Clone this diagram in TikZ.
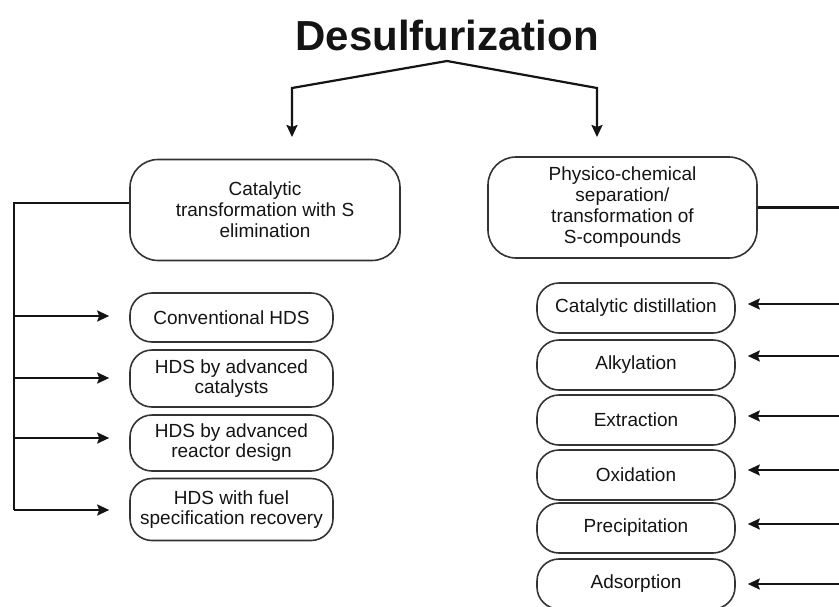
\documentclass[tikz,border=0pt]{standalone}
\usepackage{fontspec}
\setmainfont{Liberation Sans}
\usetikzlibrary{arrows.meta}
\definecolor{boxline}{HTML}{333333}
\definecolor{ink}{HTML}{141414}
\tikzset{
  topbox/.style={draw=boxline, line width=1.6pt, rounded corners=28pt, minimum width=270pt,
    minimum height=101pt, align=center, inner sep=0pt, font=\fontsize{19}{21}\selectfont, text=ink},
  subbox/.style={draw=boxline, line width=1.6pt, rounded corners=22pt, minimum width=203pt,
    align=center, inner sep=0pt, font=\fontsize{19}{20}\selectfont, text=ink},
  rbox/.style={subbox, minimum width=198pt, minimum height=50pt},
  link/.style={draw=ink, line width=2.2pt},
  arr/.style={link, -{Stealth[length=12pt,width=11pt,inset=2pt]}}
}
\begin{document}
\begin{tikzpicture}[x=1pt,y=-1pt]
\useasboundingbox[fill=white] (0,0) rectangle (839,606);
% title
\node[anchor=base, font=\fontsize{42}{46}\selectfont\bfseries, text=ink, inner sep=0pt] (title) at (447,50) {Desulfurization};
\coordinate (apex) at (447,61);
\coordinate (cl) at (292,88);
\coordinate (cr) at (597,88);
\coordinate (tl) at (292,137);
\coordinate (tr) at (597,137);
\draw[arr] (apex) -- (cl) -- (tl);
\draw[arr] (apex) -- (cr) -- (tr);
% top boxes
\node[topbox] (L) at (265,210) {Catalytic\\transformation with S\\elimination};
\node[topbox, minimum width=269pt] (R) at (622.5,207.5) {Physico-chemical\\separation/\\transformation of\\S-compounds};
% left sub boxes
\node[subbox, minimum height=49pt] (c1) at (231.5,317.5) {Conventional HDS};
\node[subbox, minimum height=57pt] (c2) at (231.5,378.5) {HDS by advanced\\catalysts};
\node[subbox, minimum height=56pt] (c3) at (231.5,443) {HDS by advanced\\reactor design};
\node[subbox, minimum height=62pt] (c4) at (231.5,509.5) {HDS with fuel\\specification recovery};
% right sub boxes
\node[rbox] (d1) at (636,308) {Catalytic distillation};
\node[rbox] (d2) at (636,365) {Alkylation};
\node[rbox] (d3) at (636,420) {Extraction};
\node[rbox] (d4) at (636,475) {Oxidation};
\node[rbox] (d5) at (636,528) {Precipitation};
\node[rbox] (d6) at (636,584) {Adsorption};
% left spine
\coordinate (sl) at (14,203);
\coordinate (sb) at (14,510);
\draw[link] ([yshift=7pt]L.west) -- (sl) -- (sb);
\coordinate (a1) at (14,316);
\coordinate (a2) at (14,378);
\coordinate (a3) at (14,438);
\coordinate (a4) at (14,510);
\foreach \i in {1,2,3,4}{
  \draw[arr, shorten >=20pt] (a\i) -- (a\i -| c\i.west);
}
% right spine (off the frame)
\coordinate (sr) at (839,207);
\draw[link] (R.east) -- (R.east -| sr);
\coordinate (b1) at (839,304);
\coordinate (b2) at (839,356);
\coordinate (b3) at (839,416);
\coordinate (b4) at (839,470);
\coordinate (b5) at (839,524);
\coordinate (b6) at (839,584);
\foreach \i in {1,...,6}{
  \draw[arr, shorten >=12pt] (b\i) -- (b\i -| d\i.east);
}
\end{tikzpicture}
\end{document}
